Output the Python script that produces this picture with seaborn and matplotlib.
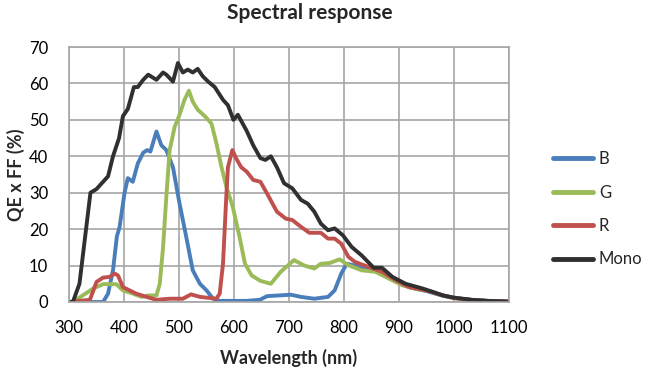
import seaborn as sns
import matplotlib.pyplot as plt
import pandas as pd
import numpy as np

# wavelength (nm) / QE x FF (%)
b_wl = [300, 362, 371, 380, 387, 392, 401, 407, 416, 425, 435, 442, 448, 459, 468,
        477, 489, 501, 513, 525, 538, 550, 562, 574, 598, 622, 647, 660, 703, 722,
        746, 771, 783, 795, 805, 820, 845, 870, 895, 920, 950, 980, 1000, 1030, 1060, 1100]
b_qe = [0, 0, 2.3, 8.7, 18, 20.6, 30, 34, 33, 38, 41, 41.7, 41.3, 46.8, 43,
        41.7, 37, 27, 18, 8.7, 5, 3.2, 0.9, 0.3, 0.3, 0.3, 0.6, 1.6, 2.0, 1.4,
        0.9, 1.4, 3.2, 7.8, 10.5, 10.0, 9.2, 8.0, 5.8, 4.0, 3.0, 1.7, 1.1, 0.6, 0.3, 0.1]

g_wl = [300, 307, 325, 344, 362, 386, 398, 416, 432, 444, 459, 465, 471, 477, 483,
        492, 501, 510, 518, 525, 534, 547, 559, 568, 577, 586, 598, 610, 620, 632,
        648, 667, 685, 709, 728, 746, 758, 774, 792, 808, 832, 857, 882, 906, 930,
        955, 980, 1000, 1030, 1060, 1100]
g_qe = [0, 0, 1.8, 3.7, 4.9, 4.9, 3.2, 2.3, 1.4, 1.8, 1.8, 5, 15, 29, 41.7,
        48, 51.4, 55.5, 58, 55, 52.8, 51, 49, 43.6, 37.2, 31.7, 26, 17.9, 10.5, 7.3,
        5.8, 5.0, 8.3, 11.5, 10, 9.2, 10.5, 10.7, 11.7, 10.1, 8.7, 8.3, 6.4, 4.6, 3.6,
        3.0, 1.8, 1.1, 0.6, 0.3, 0.1]

r_wl = [300, 338, 350, 362, 374, 383, 389, 398, 410, 422, 441, 459, 483, 507, 522,
        538, 556, 568, 574, 580, 586, 589, 597, 604, 613, 623, 635, 648, 660, 678,
        694, 706, 722, 737, 758, 771, 783, 795, 808, 820, 845, 869, 894, 918, 949,
        980, 1000, 1030, 1060, 1100]
r_qe = [0, 0.6, 5.5, 6.7, 6.9, 7.8, 7.3, 4.1, 3.2, 2.3, 1.4, 0.6, 0.9, 0.9, 2.1,
        1.4, 1.1, 0.9, 2.3, 10.5, 29, 37, 41.7, 39.4, 37, 35.8, 33.5, 33, 29.8, 24.8,
        22.9, 22.5, 20.6, 19, 19, 17.4, 17.4, 16, 12.4, 11, 9.6, 8.3, 6, 4.1, 3.2,
        1.8, 1.1, 0.6, 0.3, 0.1]

m_wl = [300, 307, 319, 331, 339, 350, 362, 371, 380, 391, 398, 407, 418, 425, 435,
        444, 459, 471, 477, 489, 498, 507, 516, 525, 534, 543, 553, 565, 580, 589,
        599, 607, 623, 635, 648, 657, 667, 678, 691, 706, 722, 734, 746, 758, 771,
        783, 798, 814, 832, 854, 869, 888, 912, 943, 962, 980, 1000, 1032, 1063, 1100]
m_qe = [0, 0, 5, 20, 30, 31, 33, 34.5, 40, 45, 51, 53, 59, 59, 61,
        62.4, 61, 63, 62.4, 60.5, 65.6, 63, 63.8, 63, 64, 62, 60.5, 59, 55.5, 54,
        50, 51.4, 47, 43, 39.5, 39, 40, 37, 32.6, 31.2, 28, 27, 24.8, 21.5, 19.7,
        20.2, 18.3, 15.1, 12.8, 9.4, 9.4, 6.9, 5, 3.7, 2.75, 1.8, 1.2, 0.6, 0.3, 0.1]

series = ["B", "G", "R", "Mono"]
colors = ["#4A7EBB", "#9BBB59", "#C0504D", "#303030"]

df = pd.concat([
    pd.DataFrame({"wl": b_wl, "qe": b_qe, "s": "B"}),
    pd.DataFrame({"wl": g_wl, "qe": g_qe, "s": "G"}),
    pd.DataFrame({"wl": r_wl, "qe": r_qe, "s": "R"}),
    pd.DataFrame({"wl": m_wl, "qe": m_qe, "s": "Mono"}),
], ignore_index=True)

sns.set_style("white")
plt.rcParams["font.family"] = ["Lato", "DejaVu Sans"]

fig = plt.figure(figsize=(6.45, 3.75), dpi=100)
ax = fig.add_axes([69 / 645, 1 - 302 / 375, 440 / 645, 255 / 375])

sns.lineplot(data=df, x="wl", y="qe", hue="s", hue_order=series,
             palette=colors, linewidth=2.8, sort=False, estimator=None,
             ax=ax, solid_joinstyle="round", solid_capstyle="round")

ax.set_xlim(300, 1100)
ax.set_ylim(0, 70)
ax.set_xticks(np.arange(300, 1101, 100))
ax.set_yticks(np.arange(0, 71, 10))
ax.grid(True, color="#A6A6A6", linewidth=1.2)
ax.set_axisbelow(True)
for sp in ax.spines.values():
    sp.set_color("#A6A6A6")
    sp.set_linewidth(1.2)
ax.tick_params(length=0, labelsize=12, colors="black")
ax.tick_params(axis="x", pad=13)
ax.tick_params(axis="y", pad=15)

ax.set_xlabel("Wavelength (nm)", fontsize=13, fontweight="bold", labelpad=9)
ax.set_ylabel("QE x FF (%)", fontsize=13, fontweight="bold")
ax.yaxis.set_label_coords(-0.1, 0.5)
fig.text(310 / 645, 1 - 13 / 375, "Spectral response", ha="center", va="center",
         fontsize=15, fontweight="bold")

leg = ax.legend(loc="upper left", bbox_to_anchor=(538 / 645, 1 - 136 / 375),
                bbox_transform=fig.transFigure, frameon=False, fontsize=12,
                handlelength=2.4, labelspacing=1.05, handletextpad=0.35)
for h in leg.get_lines():
    h.set_linewidth(3.5)

fig.savefig("out.png", dpi=100)
